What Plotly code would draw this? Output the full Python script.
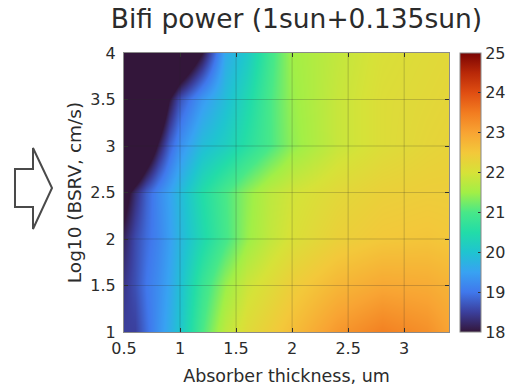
import plotly.graph_objects as go

# ---- data ----
thickness_um = [0.5, 0.6, 0.7, 0.8, 0.9, 1.0, 1.2, 1.4, 1.6, 1.8, 2.0, 2.4, 2.8, 3.2, 3.4]
log10_bsrv = [1.0, 1.5, 2.0, 2.5, 3.0, 3.5, 4.0]

power_log_1_0 = [18.5, 18.5, 18.9, 19.3, 19.65, 20.05, 21.0, 21.75, 22.15, 22.4, 22.65, 23.15, 23.45, 23.25, 23.0]
power_log_1_5 = [18.4, 18.65, 19.0, 19.25, 19.55, 19.95, 20.8, 21.45, 21.9, 22.15, 22.4, 22.75, 22.95, 22.9, 22.8]
power_log_2_0 = [18.2, 18.6, 18.9, 19.15, 19.45, 19.8, 20.4, 20.95, 21.45, 21.8, 22.05, 22.35, 22.5, 22.55, 22.5]
power_log_2_5 = [17.7, 18.3, 18.8, 19.2, 19.5, 19.85, 20.5, 21.0, 21.4, 21.75, 21.95, 22.2, 22.35, 22.4, 22.4]
power_log_3_0 = [15.5, 16.3, 17.2, 18.1, 18.8, 19.3, 19.9, 20.2, 20.6, 21.0, 21.4, 21.85, 22.1, 22.25, 22.3]
power_log_3_5 = [14.0, 14.8, 15.9, 17.0, 18.0, 18.7, 19.4, 19.9, 20.4, 21.0, 21.45, 21.85, 22.1, 22.2, 22.25]
power_log_4_0 = [14.0, 14.5, 15.0, 15.5, 16.2, 16.8, 18.0, 19.6, 20.1, 20.9, 21.5, 21.8, 22.05, 22.15, 22.2]

power = [power_log_1_0, power_log_1_5, power_log_2_0, power_log_2_5,
         power_log_3_0, power_log_3_5, power_log_4_0]

x_ticks = [0.5, 1, 1.5, 2, 2.5, 3]
x_tick_labels = ["0.5", "1", "1.5", "2", "2.5", "3"]
y_ticks = [1, 1.5, 2, 2.5, 3, 3.5, 4]
y_tick_labels = ["1", "1.5", "2", "2.5", "3", "3.5", "4"]
cbar_ticks = [18, 19, 20, 21, 22, 23, 24, 25]

# ---- styling ----
FONT = "DejaVu Sans"
TXT = "#2b2b2b"
W, H = 508, 389
PL, PR, PT, PB = 124, 449, 53, 332  # plot area in pixels

colorscale = [
    [0.000, "#33163a"],
    [0.071, "#3b3f9c"],
    [0.143, "#4078ec"],
    [0.214, "#38a2f2"],
    [0.286, "#1fc4d0"],
    [0.357, "#22dca8"],
    [0.429, "#48e888"],
    [0.500, "#a2ef46"],
    [0.571, "#d6e238"],
    [0.643, "#f3c83a"],
    [0.714, "#f8a433"],
    [0.786, "#f27c20"],
    [0.857, "#e04e12"],
    [0.929, "#b82808"],
    [1.000, "#7a0403"],
]

fig = go.Figure(
    go.Heatmap(
        x=thickness_um, y=log10_bsrv, z=power,
        zmin=18, zmax=25, zsmooth="best",
        colorscale=colorscale,
        colorbar=dict(
            x=(460 - PL) / (PR - PL), xanchor="left", xref="paper",
            y=0.5, yanchor="middle", len=1, lenmode="fraction",
            thickness=21, thicknessmode="pixels",
            xpad=0, ypad=0,
            outlinewidth=1, outlinecolor="#8a8a8a",
            tickvals=cbar_ticks, ticks="inside", ticklen=3,
            tickcolor="#333", tickfont=dict(family=FONT, size=16, color=TXT),
        ),
        hoverinfo="skip",
    )
)

shapes = []
grid_col = "rgba(40,40,40,0.22)"
for xv in x_ticks:
    if 0.5 < xv < 3.4:
        shapes.append(dict(type="line", xref="x", yref="paper", x0=xv, x1=xv, y0=0, y1=1,
                           line=dict(color=grid_col, width=1), layer="above"))
for yv in y_ticks:
    if 1 < yv < 4:
        shapes.append(dict(type="line", xref="paper", yref="y", x0=0, x1=1, y0=yv, y1=yv,
                           line=dict(color=grid_col, width=1), layer="above"))

# decorative arrow at the left (pixel outline converted to paper coordinates)
arrow_px = [(15, 169), (33, 169), (33, 148), (52, 188), (33, 229), (33, 207), (15, 207)]
def to_paper(p):
    return ((p[0] - PL) / (PR - PL), (PB - p[1]) / (PB - PT))
pts = [to_paper(p) for p in arrow_px]
path = "M " + " L ".join(f"{a:.4f},{b:.4f}" for a, b in pts) + " Z"
shapes.append(dict(type="path", xref="paper", yref="paper", path=path,
                   line=dict(color="#4a4a4a", width=2), fillcolor="white", layer="above"))

axis_common = dict(
    showline=True, linecolor="#8a8a8a", linewidth=1, mirror="ticks",
    ticks="inside", ticklen=4, tickcolor="#333", showgrid=False, zeroline=False,
    layer="above traces", automargin=False,
    tickfont=dict(family=FONT, size=16, color=TXT),
)

fig.update_layout(
    width=W, height=H,
    margin=dict(l=PL, r=W - PR, t=PT, b=H - PB, pad=0, autoexpand=False),
    paper_bgcolor="white", plot_bgcolor="white",
    font=dict(family=FONT, color=TXT),
    title=dict(text="Bifi power (1sun+0.135sun)", x=296.5 / W, xref="container", xanchor="center",
               y=1 - 19 / H, yref="container", yanchor="middle", automargin=False,
               font=dict(family=FONT, size=26.5, color=TXT)),
    xaxis=dict(range=[0.5, 3.4], tickvals=x_ticks, ticktext=x_tick_labels,
               ticklabelstandoff=2,
               title=dict(text="Absorber thickness, um", font=dict(family=FONT, size=17.5, color=TXT), standoff=12),
               **axis_common),
    yaxis=dict(range=[1, 4], tickvals=y_ticks, ticktext=y_tick_labels,
               ticklabelstandoff=4,
               title=dict(text="Log10 (BSRV, cm/s)", font=dict(family=FONT, size=18.5, color=TXT), standoff=3),
               **axis_common),
    shapes=shapes,
)

fig.write_html(
    "out.html",
    config={"displayModeBar": False, "staticPlot": True},
    post_script="document.body.style.margin='0';document.body.style.padding='0';"
                "document.documentElement.style.overflow='hidden';",
)
